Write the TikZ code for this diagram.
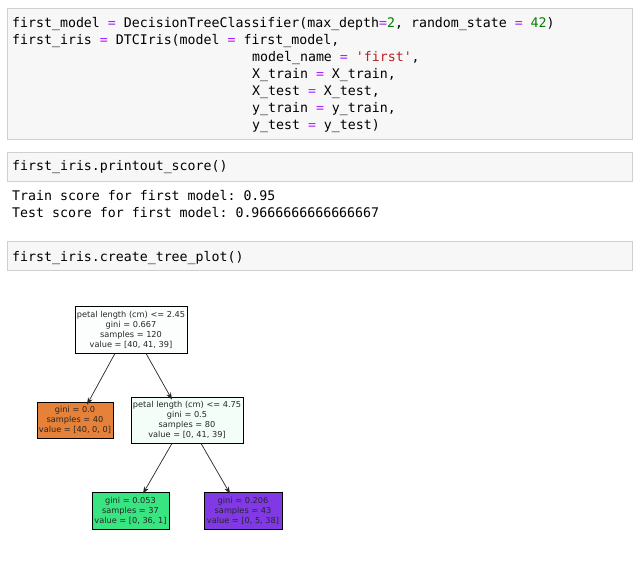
\documentclass[tikz,border=0pt]{standalone}
\usepackage{fontspec}
\setmainfont{DejaVu Sans}
\setmonofont{DejaVu Sans Mono}
\usetikzlibrary{arrows.meta}
\definecolor{cellbg}{HTML}{F7F7F7}
\definecolor{cellbd}{HTML}{CFCFCF}
\definecolor{kw}{HTML}{AA22FF}
\definecolor{num}{HTML}{008000}
\definecolor{str}{HTML}{BA2121}
\definecolor{orng}{HTML}{E58139}
\definecolor{grn}{HTML}{39E581}
\definecolor{prp}{HTML}{8139E5}
\definecolor{rootc}{HTML}{FCFEFD}
\definecolor{midc}{HTML}{F4FEF8}
\newcommand{\eq}{\textcolor{kw}{=}}
\begin{document}
\begin{tikzpicture}[x=1pt,y=-1pt,
  cell/.style={draw=cellbd,fill=cellbg,line width=0.8pt},
  code/.style={anchor=base west,inner sep=0,font=\fontsize{13.25}{15}\ttfamily,text=black},
  tnode/.style={draw=black,line width=0.8pt,align=center,inner sep=0,font=\fontsize{8.2}{10}\selectfont,text=black!85},
  arr/.style={-{Stealth[length=7pt,width=5pt]},line width=0.7pt,draw=black!85}]
\useasboundingbox (0,0) rectangle (639,561);
\fill[white] (0,0) rectangle (639,561);
\draw[cell] (7,8) rectangle (632,139);
\node[code] (c1) at (12,28) {first\_model \eq{} DecisionTreeClassifier(max\_depth\eq\textcolor{num}{2}, random\_state \eq{} \textcolor{num}{42})};
\node[code] (c2) at (12,45) {first\_iris \eq{} DTCIris(model \eq{} first\_model,};
\node[code] (c3) at (252,62) {model\_name \eq{} \textcolor{str}{'first'},};
\node[code] (c4) at (252,79) {X\_train \eq{} X\_train,};
\node[code] (c5) at (252,96) {X\_test \eq{} X\_test,};
\node[code] (c6) at (252,113) {y\_train \eq{} y\_train,};
\node[code] (c7) at (252,130) {y\_test \eq{} y\_test)};
\draw[cell] (7,152) rectangle (632,181);
\node[code] (p1) at (12,171) {first\_iris.printout\_score()};
\node[code] (o1) at (12,201) {Train score for first model: 0.95};
\node[code] (o2) at (12,218) {Test score for first model: 0.9666666666666667};
\draw[cell] (7,241) rectangle (632,270);
\node[code] (p2) at (12,261) {first\_iris.create\_tree\_plot()};
\node[tnode,fill=rootc,minimum width=112pt,minimum height=47pt] (root) at (131,329.5) {petal length (cm) <= 2.45\\gini = 0.667\\samples = 120\\value = [40, 41, 39]};
\node[tnode,fill=orng,minimum width=76pt,minimum height=36pt] (left) at (75,420) {gini = 0.0\\samples = 40\\value = [40, 0, 0]};
\node[tnode,fill=midc,minimum width=112pt,minimum height=46pt] (mid) at (187,420) {petal length (cm) <= 4.75\\gini = 0.5\\samples = 80\\value = [0, 41, 39]};
\node[tnode,fill=grn,minimum width=77pt,minimum height=37pt] (l1) at (130.5,510.5) {gini = 0.053\\samples = 37\\value = [0, 36, 1]};
\node[tnode,fill=prp,minimum width=78pt,minimum height=37pt] (l2) at (243,510.5) {gini = 0.206\\samples = 43\\value = [0, 5, 38]};
\draw[arr] ([xshift=-16pt]root.south) -- ([xshift=12pt,yshift=-3pt]left.north);
\draw[arr] ([xshift=15pt]root.south) -- ([xshift=-15pt,yshift=-3pt]mid.north);
\draw[arr] ([xshift=-15pt]mid.south) -- ([xshift=12.5pt,yshift=-2pt]l1.north);
\draw[arr] ([xshift=14pt]mid.south) -- ([xshift=-13pt,yshift=-2pt]l2.north);
\end{tikzpicture}
\end{document}
